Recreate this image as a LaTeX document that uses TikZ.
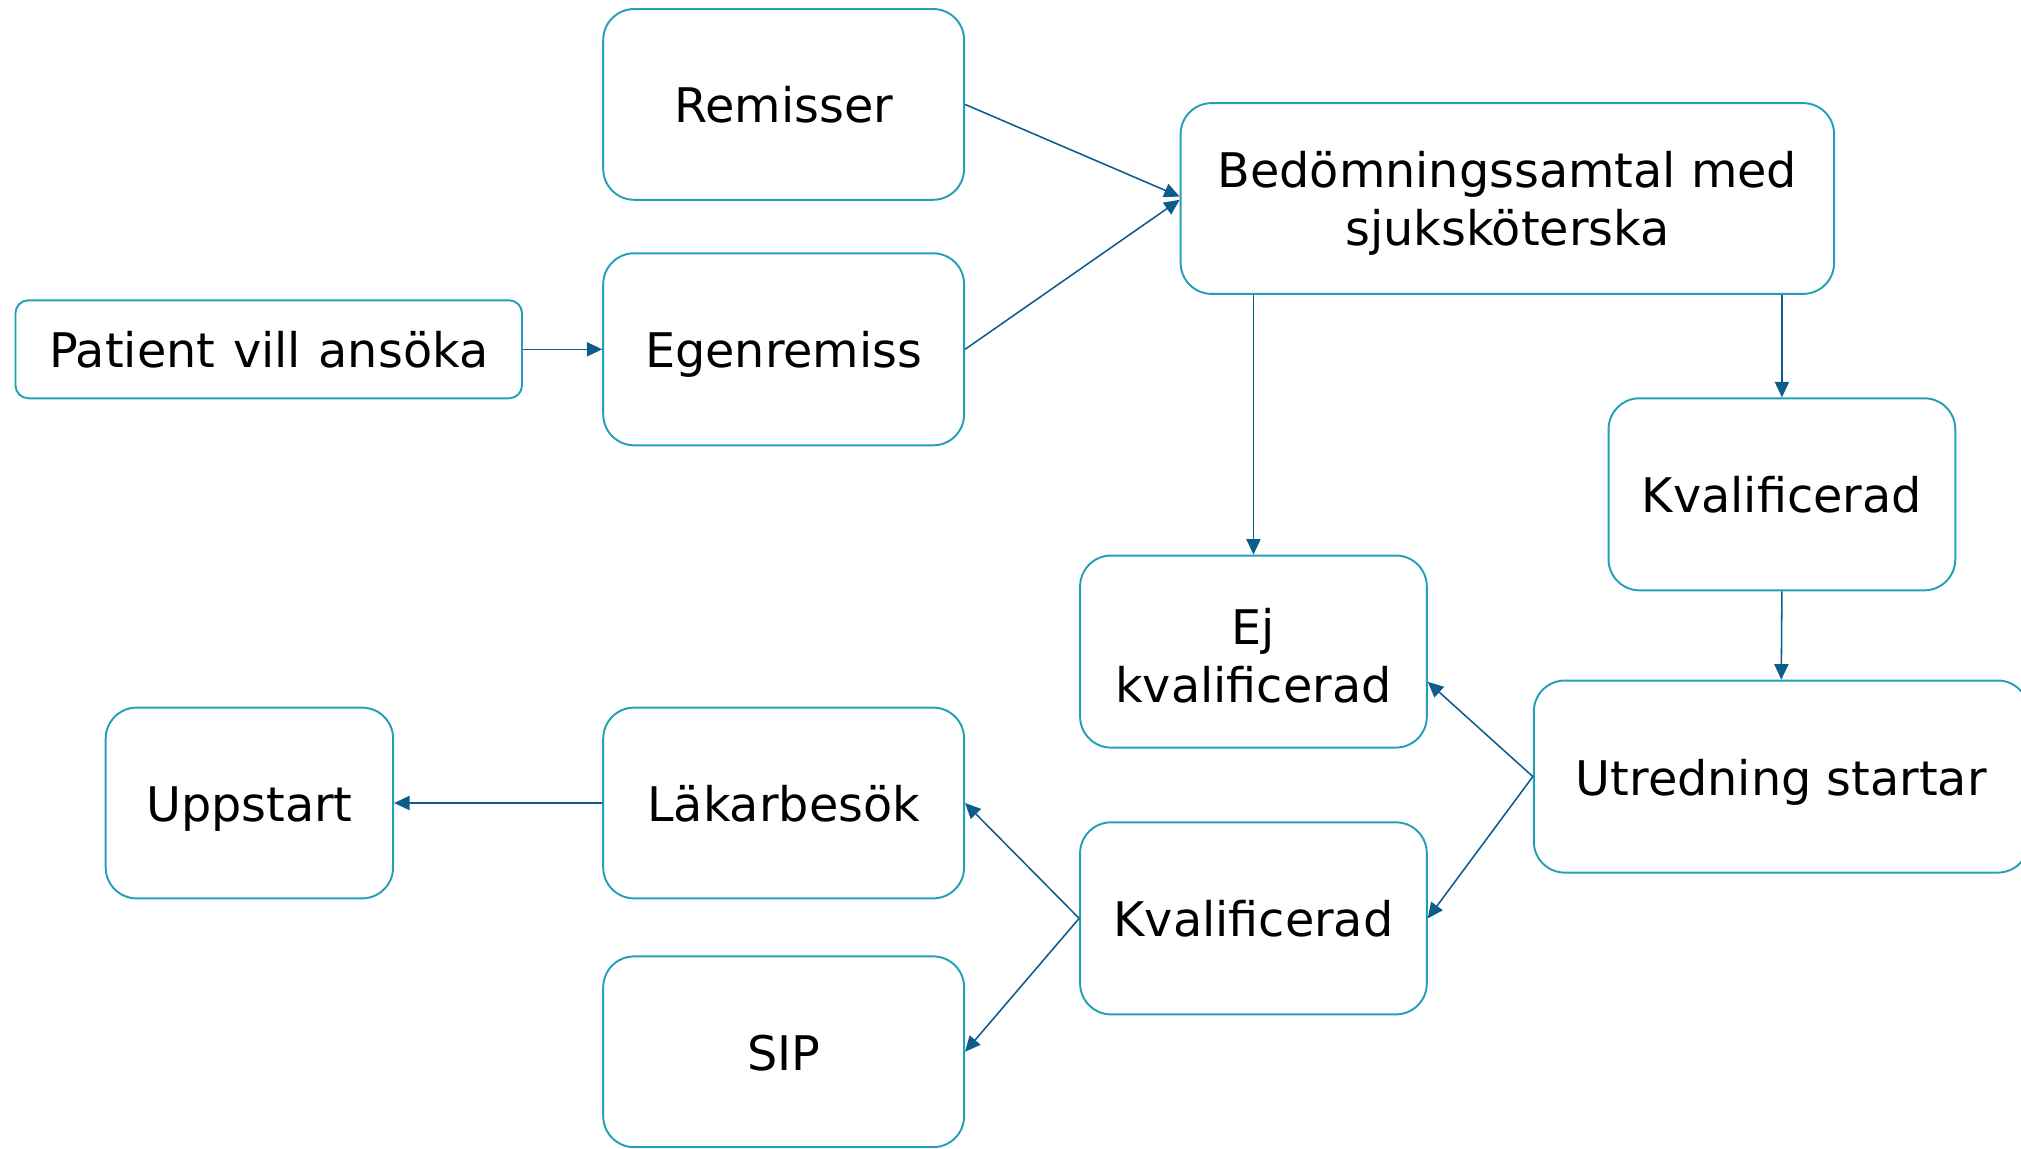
\documentclass[tikz,border=0pt]{standalone}
\usepackage{fontspec}
\setmainfont{DejaVu Sans}
\usetikzlibrary{arrows.meta,calc}
\definecolor{boxc}{RGB}{35,160,182}
\definecolor{linec}{RGB}{12,92,140}
\tikzset{
  box/.style={draw=boxc, line width=0.75pt, rounded corners=12pt, fill=white,
    font=\fontsize{18.5}{22.5}\selectfont, align=center, inner sep=0pt},
  one/.style={text height=18pt, text depth=3.6pt},
  conn/.style={draw=linec, line width=0.6pt, -{Triangle[length=6pt,width=5.5pt]}}
}
\begin{document}
\begin{tikzpicture}[x=0.5pt,y=-0.5pt]
\path[use as bounding box] (0,0) rectangle (1568,891);
\clip (0,0) rectangle (1568,891);
\node[box,one,minimum width=140pt,minimum height=74pt] (rem) at (608,81) {Remisser};
\node[box,one,minimum width=140pt,minimum height=74.5pt] (ege) at (608,271) {Egenremiss};
\node[box,one,rounded corners=5pt,minimum width=196.5pt,minimum height=38pt] (pat) at (208.5,271) {Patient\hspace{1pt} vill\hspace{1pt} ansöka};
\node[box,minimum width=253.5pt,minimum height=74pt] (bed) at (1169.5,154) {\rule{0pt}{17.5pt}Bedömningssamtal med\\sjuksköterska};
\node[box,one,minimum width=134.5pt,minimum height=74.5pt] (kvr) at (1382.5,383.5) {Kvalificerad};
\node[box,minimum width=134.5pt,minimum height=74.5pt] (ej) at (972.5,505.5) {\rule{0pt}{17.5pt}Ej\\kvalificerad};
\node[box,one,minimum width=192pt,minimum height=74.5pt] (utr) at (1382,602.5) {Utredning startar};
\node[box,one,minimum width=111.5pt,minimum height=74pt] (upp) at (193.5,623) {Uppstart};
\node[box,one,minimum width=140pt,minimum height=74pt] (lak) at (608,623) {Läkarbesök};
\node[box,one,minimum width=134.5pt,minimum height=74.5pt] (kvm) at (972.5,712.5) {Kvalificerad};
\node[box,one,minimum width=140pt,minimum height=74pt] (sip) at (608,816) {SIP};

\draw[conn] (rem.east) -- ([yshift=0.75pt]bed.west);
\draw[conn] (ege.east) -- ([yshift=-0.5pt]bed.west);
\draw[conn] (pat.east) -- (ege.west);
\draw[conn] (bed.south -| ej.north) -- (ej.north);
\draw[conn] (bed.south -| kvr.north) -- (kvr.north);
\draw[conn] (kvr.south) -- (utr.north);
\draw[conn] (utr.west) -- ([yshift=-11.75pt]ej.east);
\draw[conn] (utr.west) -- (kvm.east);
\draw[conn] (kvm.west) -- (lak.east);
\draw[conn] (kvm.west) -- (sip.east);
\draw[conn] (lak.west) -- (upp.east);
\end{tikzpicture}
\end{document}
